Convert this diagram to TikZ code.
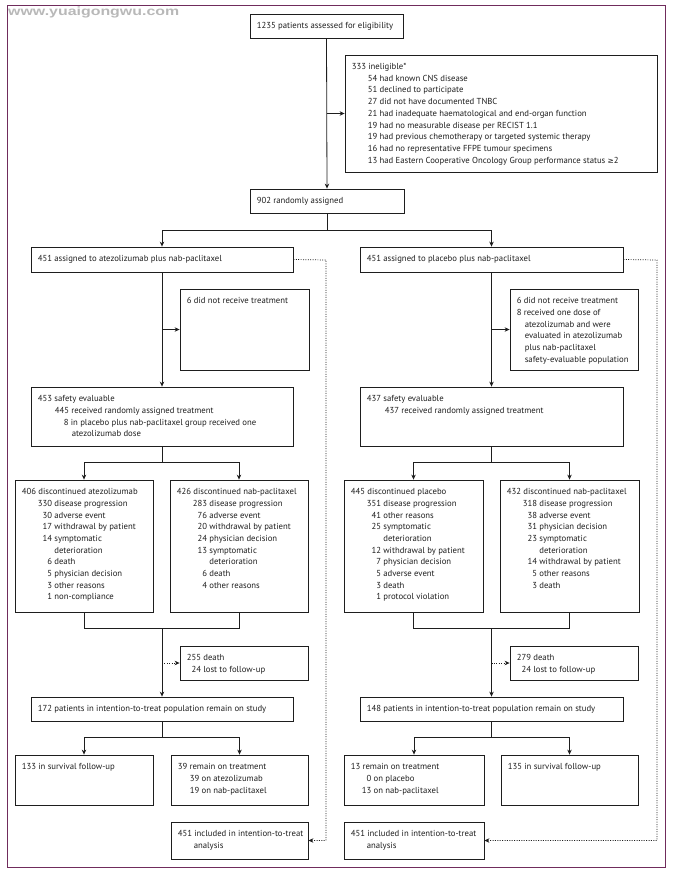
\documentclass[tikz,border=0pt]{standalone}
\usepackage{fontspec}
\setmainfont{PT Sans}
\newfontfamily\symf{DejaVu Sans}
\newfontfamily\wmf{Liberation Sans}
\usetikzlibrary{arrows.meta,calc,fit}
\definecolor{framecol}{RGB}{112,44,92}
\definecolor{ink}{RGB}{30,30,30}
\newcommand\hd[1]{\multicolumn{2}{@{}l@{}}{#1}}
\newcommand\ind[1]{\hspace*{#1pt}}
\newcommand\Bx[5]{\node[bx, fit={(#2,#3) (#4,#5)}] (#1) {};}
\newcommand\Tx[2]{\node[txt, anchor=base west] (#1t) at ($(#1.north west)+(7,15)$) {#2};}
\tikzset{
  bx/.style={draw=ink, line width=0.8pt, inner sep=0pt, rectangle},
  txt/.style={inner sep=0pt, text=ink, font=\fontsize{8.7pt}{11.7pt}\selectfont},
  ln/.style={draw=ink, line width=0.8pt},
  arr/.style={ln, -{Stealth[length=5pt,width=4.5pt]}},
  dotl/.style={draw=ink, line width=0.7pt, dash pattern=on 1pt off 1.4pt},
  dotarr/.style={dotl, -{Stealth[length=5pt,width=4.5pt]}}
}
\begin{document}
\begin{tikzpicture}[x=1pt,y=-1pt]
\useasboundingbox (0,0) rectangle (676,872);
\draw[framecol, line width=1pt] (7,6) rectangle (665,867);
\node[anchor=west, inner sep=0pt, text=black!28] (wm) at (8,12) {\resizebox{171pt}{\height}{\wmf\fontsize{12pt}{12pt}\selectfont\bfseries www.yuaigongwu.com}};

% boxes
\Bx{A}{250}{14}{403}{38}
\Bx{C}{345}{55}{657}{172}
\Bx{B}{250}{189}{404}{213}
\Bx{D1}{31}{247}{293}{272}
\Bx{D2}{360}{247}{623}{272}
\Bx{E1}{180}{289}{309}{370}
\Bx{E2}{510}{289}{638}{370}
\Bx{F1}{31}{387}{293}{446}
\Bx{F2}{360}{387}{623}{446}
\Bx{G1}{15}{480}{153}{612}
\Bx{G2}{170}{480}{308}{612}
\Bx{G3}{344}{480}{483}{612}
\Bx{G4}{500}{480}{639}{612}
\Bx{I1}{180}{646}{308}{680}
\Bx{I2}{510}{646}{638}{680}
\Bx{H1}{31}{697}{293}{721}
\Bx{H2}{360}{697}{623}{721}
\Bx{J1}{15}{755}{153}{805}
\Bx{J2}{171}{755}{308}{805}
\Bx{J3}{344}{755}{484}{805}
\Bx{J4}{501}{755}{638}{805}
\Bx{K1}{171}{822}{308}{859}
\Bx{K2}{344}{822}{484}{859}

% texts
\Tx{A}{1235 patients assessed for eligibility}
\Tx{C}{\begin{tabular}[t]{@{}r@{\ }l@{}}
\hd{333 ineligible*}\\
\ind{16}54 & had known CNS disease\\
51 & declined to participate\\
27 & did not have documented TNBC\\
21 & had inadequate haematological and end-organ function\\
19 & had no measurable disease per RECIST 1.1\\
19 & had previous chemotherapy or targeted systemic therapy\\
16 & had no representative FFPE tumour specimens\\
13 & had Eastern Cooperative Oncology Group performance status {\symf\fontsize{7.5pt}{11.7pt}\selectfont ≥}2
\end{tabular}}
\Tx{B}{902 randomly assigned}
\Tx{D1}{451 assigned to atezolizumab plus nab-paclitaxel}
\Tx{D2}{451 assigned to placebo plus nab-paclitaxel}
\Tx{E1}{6 did not receive treatment}
\Tx{E2}{\begin{tabular}[t]{@{}l@{}}
6 did not receive treatment\\
8 received one dose of\\
\ind{8}atezolizumab and were\\
\ind{8}evaluated in atezolizumab\\
\ind{8}plus nab-paclitaxel\\
\ind{8}safety-evaluable population
\end{tabular}}
\Tx{F1}{\begin{tabular}[t]{@{}l@{}}
453 safety evaluable\\
\ind{17}445 received randomly assigned treatment\\
\ind{26}8 in placebo plus nab-paclitaxel group received one\\
\ind{34}atezolizumab dose
\end{tabular}}
\Tx{F2}{\begin{tabular}[t]{@{}l@{}}
437 safety evaluable\\
\ind{18}437 received randomly assigned treatment
\end{tabular}}
\Tx{G1}{\begin{tabular}[t]{@{}r@{\ }l@{}}
\hd{406 discontinued atezolizumab}\\
\ind{16}330 & disease progression\\
30 & adverse event\\
17 & withdrawal by patient\\
14 & symptomatic\\
 & deterioration\\
6 & death\\
5 & physician decision\\
3 & other reasons\\
1 & non-compliance
\end{tabular}}
\Tx{G2}{\begin{tabular}[t]{@{}r@{\ }l@{}}
\hd{426 discontinued nab-paclitaxel}\\
\ind{16}283 & disease progression\\
76 & adverse event\\
20 & withdrawal by patient\\
24 & physician decision\\
13 & symptomatic\\
 & deterioration\\
6 & death\\
4 & other reasons
\end{tabular}}
\Tx{G3}{\begin{tabular}[t]{@{}r@{\ }l@{}}
\hd{445 discontinued placebo}\\
\ind{16}351 & disease progression\\
41 & other reasons\\
25 & symptomatic\\
 & deterioration\\
12 & withdrawal by patient\\
7 & physician decision\\
5 & adverse event\\
3 & death\\
1 & protocol violation
\end{tabular}}
\Tx{G4}{\begin{tabular}[t]{@{}r@{\ }l@{}}
\hd{432 discontinued nab-paclitaxel}\\
\ind{16}318 & disease progression\\
38 & adverse event\\
31 & physician decision\\
23 & symptomatic\\
 & deterioration\\
14 & withdrawal by patient\\
5 & other reasons\\
3 & death
\end{tabular}}
\Tx{I1}{\begin{tabular}[t]{@{}r@{\ }l@{}}
255 & death\\
24 & lost to follow-up
\end{tabular}}
\Tx{I2}{\begin{tabular}[t]{@{}r@{\ }l@{}}
279 & death\\
24 & lost to follow-up
\end{tabular}}
\Tx{H1}{172 patients in intention-to-treat population remain on study}
\Tx{H2}{148 patients in intention-to-treat population remain on study}
\Tx{J1}{133 in survival follow-up}
\Tx{J2}{\begin{tabular}[t]{@{}r@{\ }l@{}}
\hd{39 remain on treatment}\\
\ind{12}39 & on atezolizumab\\
19 & on nab-paclitaxel
\end{tabular}}
\Tx{J3}{\begin{tabular}[t]{@{}r@{\ }l@{}}
\hd{13 remain on treatment}\\
0 & on placebo\\
\ind{11}13 & on nab-paclitaxel
\end{tabular}}
\Tx{J4}{135 in survival follow-up}
\Tx{K1}{\begin{tabular}[t]{@{}l@{}}
451 included in intention-to-treat\\
\ind{16}analysis
\end{tabular}}
\Tx{K2}{\begin{tabular}[t]{@{}l@{}}
451 included in intention-to-treat\\
\ind{16}analysis
\end{tabular}}

% connectors
\draw[arr] (A.south) -- (B.north);
\draw[arr] (A.south |- C.west) -- (C.west);
\coordinate (s1) at ($(B.south)+(0,17)$);
\draw[ln] (B.south) -- (s1);
\draw[arr] (s1) -| (D1.north);
\draw[arr] (s1) -| (D2.north);
% left arm
\draw[arr] (D1.south) -- (F1.north);
\draw[arr] (D1.south |- E1.west) -- (E1.west);
\coordinate (s2) at ($(F1.south)+(0,16)$);
\draw[ln] (F1.south) -- (s2);
\draw[arr] (s2) -| (G1.north);
\draw[arr] (s2) -| (G2.north);
\coordinate (m1) at ($(F1.south |- G1.south)+(0,16)$);
\draw[ln] (G1.south) |- (m1) -| (G2.south);
\draw[arr] (m1) -- (H1.north);
\draw[dotarr] (m1 |- I1.west) -- (I1.west);
\coordinate (s3) at ($(H1.south)+(0,16)$);
\draw[ln] (H1.south) -- (s3);
\draw[arr] (s3) -| (J1.north);
\draw[arr] (s3) -| (J2.north);
\coordinate (dl) at (326,260);
\draw[dotarr] (D1.east) -- (dl) |- (K1.east);
% right arm
\draw[arr] (D2.south) -- (F2.north);
\draw[arr] (D2.south |- E2.west) -- (E2.west);
\coordinate (s4) at ($(F2.south)+(0,16)$);
\draw[ln] (F2.south) -- (s4);
\draw[arr] (s4) -| (G3.north);
\draw[arr] (s4) -| (G4.north);
\coordinate (m2) at ($(F2.south |- G3.south)+(0,16)$);
\draw[ln] (G3.south) |- (m2) -| (G4.south);
\draw[arr] (m2) -- (H2.north);
\draw[dotarr] (m2 |- I2.west) -- (I2.west);
\coordinate (s5) at ($(H2.south)+(0,16)$);
\draw[ln] (H2.south) -- (s5);
\draw[arr] (s5) -| (J3.north);
\draw[arr] (s5) -| (J4.north);
\coordinate (dr) at (657,260);
\draw[dotarr] (D2.east) -- (dr) |- (K2.east);
\end{tikzpicture}
\end{document}
